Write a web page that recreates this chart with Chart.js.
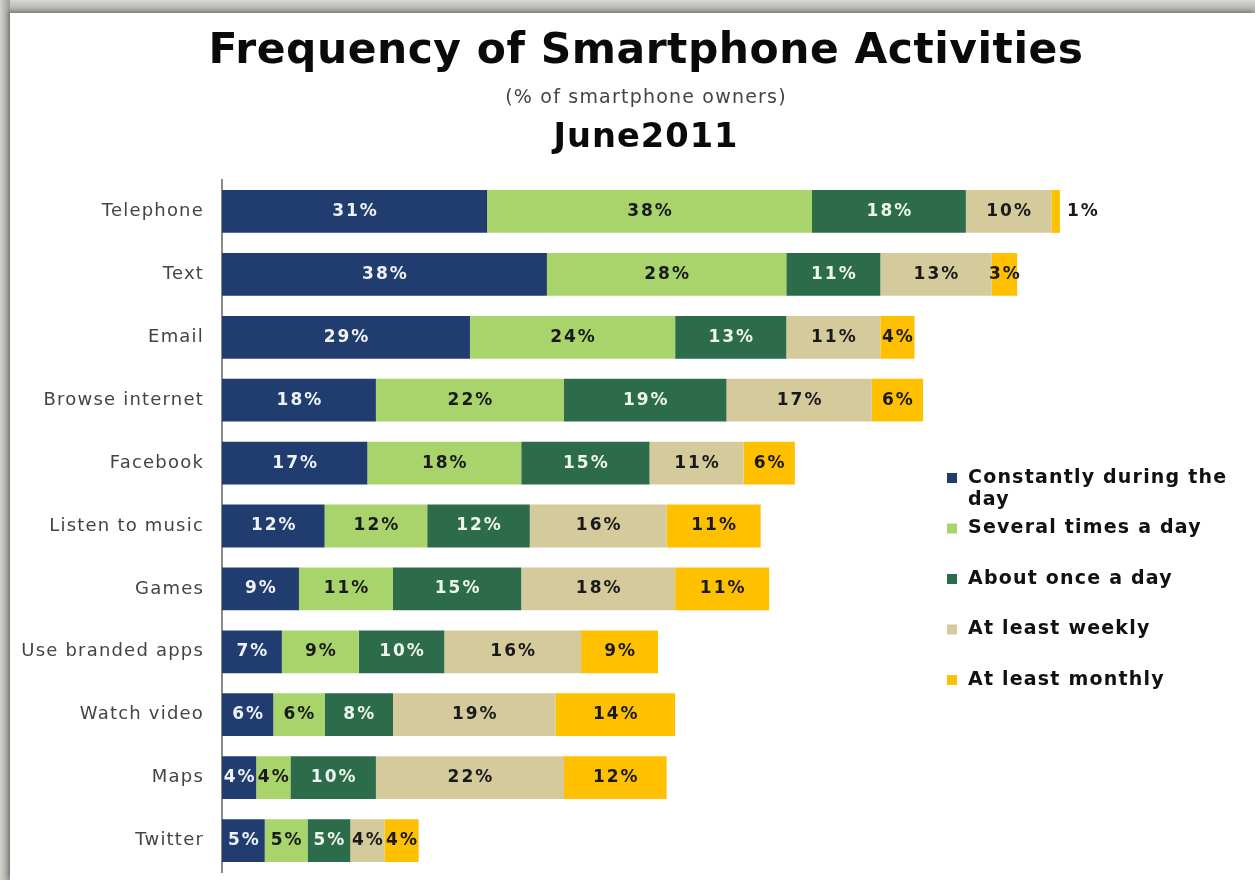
<!DOCTYPE html>
<html>
<head>
<meta charset="utf-8">
<script src="https://cdn.jsdelivr.net/npm/chart.js@4.4.1/dist/chart.umd.min.js"></script>
<style>
  html, body { margin: 0; padding: 0; width: 1255px; height: 880px; overflow: hidden; background: #ffffff; }
  .bandTop { position: absolute; left: 0; top: 0; width: 1255px; height: 13px;
             background: linear-gradient(to bottom, #d8d8d4, #a6a6a0); }
  .bandLeft { position: absolute; left: 0; top: 0; width: 10px; height: 880px;
              background: linear-gradient(to right, #d2d2ce, #9c9c96); }
  .panel { position: absolute; left: 10px; top: 13px; width: 1245px; height: 867px; background: #fff;
           box-shadow: -2px -2px 4px rgba(0,0,0,0.25); }
  canvas { display: block; }
</style>
</head>
<body>
<div class="bandTop"></div>
<div class="bandLeft"></div>
<div class="panel"><canvas id="smartphoneChart" width="1245" height="867"></canvas></div>
<script>
// categorias y series (valores en %)
const activities = ['Telephone', 'Text', 'Email', 'Browse internet', 'Facebook', 'Listen to music',
                    'Games', 'Use branded apps', 'Watch video', 'Maps', 'Twitter'];
const seriesNames = ['Constantly during the day', 'Several times a day', 'About once a day',
                     'At least weekly', 'At least monthly'];
const constantly  = [31, 38, 29, 18, 17, 12, 9, 7, 6, 4, 5];
const severalDay  = [38, 28, 24, 22, 18, 12, 11, 9, 6, 4, 5];
const onceDay     = [18, 11, 13, 19, 15, 12, 15, 10, 8, 10, 5];
const weekly      = [10, 13, 11, 17, 11, 16, 18, 16, 19, 22, 4];
const monthly     = [1, 3, 4, 6, 6, 11, 11, 9, 14, 12, 4];

const colors = ['#213d6f', '#a9d46c', '#2d6c4b', '#d5ca9c', '#ffc000'];
const labelColors = ['#eef2f8', '#1a1a1a', '#eef5ef', '#1a1a1a', '#1a1a1a'];

const seriesData = [constantly, severalDay, onceDay, weekly, monthly];

// Titulos dibujados arriba del grafico
const headings = {
    id: 'headings',
    afterDraw(chart) {
        const c = chart.ctx;
        c.save();
        c.textAlign = 'center';
        c.textBaseline = 'alphabetic';
        c.fillStyle = '#0a0a0a';
        c.font = 'bold 43px "DejaVu Sans"';
        c.letterSpacing = '0.5px';
        c.fillText('Frequency of Smartphone Activities', 636, 50, 875);
        c.fillStyle = '#444';
        c.font = '19px "DejaVu Sans"';
        c.letterSpacing = '1.2px';
        c.fillText('(% of smartphone owners)', 636, 90, 295);
        c.fillStyle = '#0a0a0a';
        c.font = 'bold 34px "DejaVu Sans"';
        c.letterSpacing = '1px';
        c.fillText('June2011', 636, 134, 185);
        c.restore();
    }
};

// espaciado de letras para las etiquetas del eje
const tickSpacing = {
    id: 'tickSpacing',
    beforeDraw(chart) { chart.ctx.letterSpacing = '1.2px'; },
    beforeDatasetsDraw(chart) { chart.ctx.letterSpacing = '0px'; }
};

// Etiquetas de valor dentro de cada segmento
const barLabels = {
    id: 'barLabels',
    afterDatasetsDraw(chart) {
        const c = chart.ctx;
        c.save();
        c.font = 'bold 17px "DejaVu Sans"';
        c.letterSpacing = '2px';
        c.textBaseline = 'middle';
        chart.data.datasets.forEach((ds, i) => {
            chart.getDatasetMeta(i).data.forEach((bar, j) => {
                const left = bar.base, right = bar.x;
                const w = right - left;
                const txt = ds.data[j] + '%';
                if (w < 12) {
                    // muy angosto: etiqueta afuera, a la derecha
                    c.textAlign = 'left';
                    c.fillStyle = '#1a1a1a';
                    c.fillText(txt, right + 7, bar.y);
                } else {
                    c.textAlign = 'center';
                    c.fillStyle = labelColors[i];
                    c.fillText(txt, (left + right) / 2 + 1, bar.y);
                }
            });
        });
        c.restore();
    }
};

// Leyenda a la derecha, sobre el area del grafico
const sideLegend = {
    id: 'sideLegend',
    afterDraw(chart) {
        const c = chart.ctx;
        c.save();
        c.font = 'bold 19px "DejaVu Sans"';
        c.letterSpacing = '1.2px';
        c.textBaseline = 'middle';
        c.textAlign = 'left';
        const x0 = 937, y0 = 465, step = 50.5;
        chart.data.datasets.forEach((ds, i) => {
            const y = y0 + i * step;
            c.fillStyle = ds.backgroundColor;
            c.fillRect(x0, y - 5, 10, 10);
            c.fillStyle = '#111';
            if (i === 0) {
                c.fillText('Constantly during the', x0 + 21, y);
                c.fillText('day', x0 + 21, y + 22);
            } else {
                c.fillText(ds.label, x0 + 21, y);
            }
        });
        c.restore();
    }
};

new Chart(document.getElementById('smartphoneChart'), {
    type: 'bar',
    data: {
        labels: activities,
        datasets: seriesData.map((vals, i) => ({
            label: seriesNames[i],
            data: vals,
            backgroundColor: colors[i],
            borderWidth: 0,
            barPercentage: 0.68,
            categoryPercentage: 1
        }))
    },
    options: {
        indexAxis: 'y',
        responsive: false,
        animation: false,
        layout: { padding: { top: 167, bottom: 8, left: 0, right: 7 } },
        plugins: {
            legend: { display: false },
            tooltip: { enabled: false }
        },
        scales: {
            x: {
                stacked: true,
                display: false,
                min: 0,
                max: 120
            },
            y: {
                stacked: true,
                grid: { display: false },
                border: { display: true, color: '#8a8a8a', width: 2 },
                ticks: { color: '#444', font: { family: 'DejaVu Sans', size: 18 }, padding: 10 },
                afterFit(scale) {
                    scale.width = 212;
                    scale.paddingTop = 0;
                    scale.paddingBottom = 0;
                }
            }
        }
    },
    plugins: [headings, tickSpacing, barLabels, sideLegend]
});
</script>
</body>
</html>
